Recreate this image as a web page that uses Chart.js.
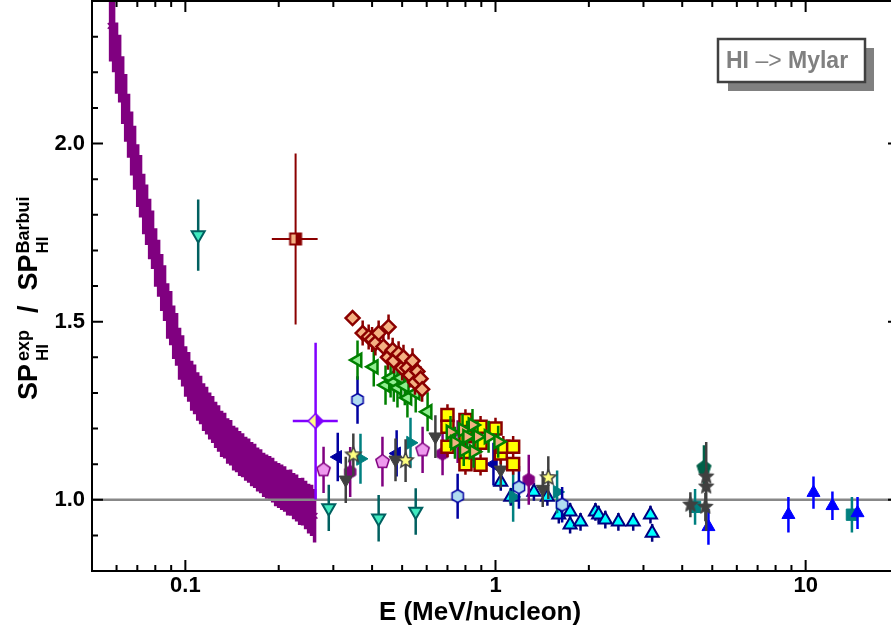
<!DOCTYPE html>
<html>
<head>
<meta charset="utf-8">
<title>HI in Mylar stopping power ratio</title>
<script src="https://cdn.jsdelivr.net/npm/chart.js@4.4.0/dist/chart.umd.min.js"></script>
<style>
  html, body { margin: 0; padding: 0; background: #fff; overflow: hidden; }
  #wrap { width: 900px; height: 637px; }
</style>
</head>
<body>
<div id="wrap"><canvas id="spChart" width="900" height="637"></canvas></div>
<script>
const FONT = "'Liberation Sans', Arial, Helvetica, sans-serif";

// ---- axis ticks ----
const xTickVals = [0.05, 0.06, 0.07, 0.08, 0.09, 0.1, 0.2, 0.3, 0.4, 0.5, 0.6, 0.7, 0.8, 0.9,
                   1, 2, 3, 4, 5, 6, 7, 8, 9, 10, 20];
const xMajor = [0.1, 1, 10];
const xTickLabels = { '0.1': '0.1', '1': '1', '10': '10' };
const yTickVals = [0.8, 0.9, 1.0, 1.1, 1.2, 1.3, 1.4, 1.5, 1.6, 1.7, 1.8, 1.9, 2.0, 2.1, 2.2, 2.3, 2.4];
const yMajor = [1.0, 1.5, 2.0];
const yTickLabels = { '1': '1.0', '1.5': '1.5', '2': '2.0' };

// ---- low energy run (dense band) ----
const bandE = [
  0.0574, 0.0587, 0.0600, 0.0614, 0.0628, 0.0642, 0.0656, 0.0671, 0.0686, 0.0702,
  0.0717, 0.0734, 0.0750, 0.0767, 0.0784, 0.0802, 0.0820, 0.0839, 0.0857, 0.0877,
  0.0897, 0.0917, 0.0937, 0.0958, 0.0980, 0.1002, 0.1025, 0.1048, 0.1071, 0.1096,
  0.1120, 0.1145, 0.1171, 0.1198, 0.1225, 0.1252, 0.1280, 0.1309, 0.1339, 0.1369,
  0.1400, 0.1431, 0.1463, 0.1496, 0.1530, 0.1565, 0.1600, 0.1636, 0.1673, 0.1710,
  0.1749, 0.1788, 0.1828, 0.1870, 0.1912, 0.1955, 0.1999, 0.2044, 0.2090, 0.2137,
  0.2185, 0.2234, 0.2284, 0.2336, 0.2388, 0.2442, 0.2497, 0.2553, 0.2610];
const bandSP = [
  2.33, 2.30, 2.24, 2.21, 2.15, 2.10, 2.05, 2.00, 1.96, 1.91,
  1.88, 1.83, 1.80, 1.76, 1.73, 1.68, 1.65, 1.61, 1.58, 1.53,
  1.51, 1.47, 1.45, 1.41, 1.39, 1.36, 1.345, 1.32, 1.31, 1.29,
  1.28, 1.26, 1.25, 1.235, 1.225, 1.21, 1.20, 1.185, 1.18, 1.165,
  1.16, 1.145, 1.14, 1.13, 1.125, 1.115, 1.11, 1.10, 1.095, 1.085,
  1.08, 1.07, 1.065, 1.06, 1.055, 1.045, 1.04, 1.035, 1.03, 1.02,
  1.02, 1.01, 1.005, 0.995, 0.995, 0.985, 0.975, 0.97, 0.955];
const bandErr = [
  0.10, 0.10, 0.10, 0.095, 0.095, 0.095, 0.09, 0.09, 0.09, 0.088,
  0.088, 0.085, 0.085, 0.085, 0.082, 0.082, 0.08, 0.08, 0.078, 0.078,
  0.076, 0.075, 0.074, 0.073, 0.072, 0.071, 0.07, 0.07, 0.07, 0.068,
  0.068, 0.067, 0.067, 0.066, 0.066, 0.065, 0.065, 0.065, 0.064, 0.064,
  0.064, 0.063, 0.063, 0.063, 0.062, 0.062, 0.062, 0.062, 0.062, 0.062,
  0.062, 0.062, 0.062, 0.063, 0.063, 0.063, 0.063, 0.064, 0.064, 0.064,
  0.065, 0.065, 0.066, 0.066, 0.067, 0.068, 0.07, 0.072, 0.075];

// ---- single points with x and y error bars ----
const halfSqE = [0.2267], halfSqSP = [1.732], halfSqErr = [0.24], halfSqLo = [0.19], halfSqHi = [0.267];
const halfDiaE = [0.263], halfDiaSP = [1.221], halfDiaErr = [0.22], halfDiaLo = [0.222], halfDiaHi = [0.31];

// ---- diamonds ----
const diaE = [0.346, 0.373, 0.390, 0.400, 0.410, 0.420, 0.435, 0.450, 0.452, 0.466, 0.470,
              0.487, 0.500, 0.505, 0.520, 0.530, 0.540, 0.550, 0.560, 0.573, 0.580];
const diaSP = [1.510, 1.468, 1.457, 1.45, 1.44, 1.468, 1.43, 1.40, 1.485, 1.42, 1.39,
               1.41, 1.37, 1.40, 1.37, 1.35, 1.39, 1.33, 1.36, 1.34, 1.31];
const diaErr = [0, 0.035, 0.035, 0.035, 0.035, 0.035, 0.035, 0.035, 0.035, 0.035, 0.035,
                0.035, 0.035, 0.035, 0.035, 0.035, 0.035, 0.035, 0.035, 0.035, 0.035];

// ---- green left triangles ----
const ltE = [0.359, 0.405, 0.442, 0.459, 0.470, 0.483, 0.494, 0.510, 0.520, 0.553, 0.604];
const ltSP = [1.392, 1.373, 1.322, 1.342, 1.33, 1.314, 1.342, 1.32, 1.286, 1.30, 1.247];

// ---- yellow squares ----
const sqE = [0.70, 0.70, 0.70, 0.80, 0.80, 0.80, 0.80, 0.895, 0.895, 0.895, 1.00, 1.04, 1.06, 1.14, 1.14];
const sqSP = [1.238, 1.205, 1.149, 1.224, 1.178, 1.13, 1.10, 1.205, 1.16, 1.098, 1.20, 1.13, 1.149, 1.149, 1.10];

// ---- salmon right triangles ----
const rtE = [0.716, 0.740, 0.783, 0.790, 0.810, 0.843, 0.850, 0.875, 0.950, 1.02];
const rtSP = [1.19, 1.16, 1.196, 1.14, 1.177, 1.21, 1.135, 1.177, 1.177, 1.163];

// ---- scattered sets around 1 ----
const lbHexE = [0.359, 0.755, 1.19, 1.64], lbHexSP = [1.28, 1.01, 1.035, 0.986], lbHexErr = [0.067, 0.063, 0.06, 0.05];
const navyE = [0.31, 0.48, 0.985], navySP = [1.12, 1.13, 1.10], navyErr = [0.068, 0.065, 0.06];
const grayDnE = [0.329, 0.476, 0.64, 1.04, 1.42], grayDnSP = [1.056, 1.112, 1.177, 1.084, 1.03], grayDnErr = [0.065, 0.06, 0.06, 0.05, 0.05];
const yStarE = [0.348, 0.513, 1.48], yStarSP = [1.126, 1.11, 1.062], yStarErr = [0.06, 0.06, 0.06];
const purpHexE = [0.34, 0.675, 1.28], purpHexSP = [1.078, 1.129, 1.056], purpHexErr = [0.07, 0.06, 0.07];
const pentE = [0.279, 0.432, 0.582, 0.755], pentSP = [1.084, 1.107, 1.14, 1.163], pentErr = [0.065, 0.07, 0.065, 0.06];
const tealRtE = [0.367, 0.532, 1.14, 1.58], tealRtSP = [1.115, 1.16, 1.008, 1.022], tealRtErr = [0.07, 0.07, 0.07, 0.06];
const aquaE = [0.110, 0.29, 0.42, 0.553], aquaSP = [1.743, 0.977, 0.948, 0.967], aquaErr = [0.10, 0.065, 0.065, 0.065];

// ---- higher energies ----
const cyanE = [1.04, 1.12, 1.33, 1.47, 1.60, 1.74, 1.74, 1.88, 2.10, 2.15, 2.26, 2.49, 2.78, 3.16, 3.20];
const cyanSP = [1.05, 1.008, 1.022, 1.008, 0.958, 0.966, 0.93, 0.938, 0.966, 0.958, 0.944, 0.938, 0.938, 0.958, 0.907];
const blueUpE = [4.86, 8.8, 10.6, 12.2, 14.7], blueUpSP = [0.924, 0.958, 1.02, 0.983, 0.963], blueUpErr = [0.05, 0.05, 0.045, 0.04, 0.045];
const gStarE = [4.25, 4.75, 4.78, 4.78], gStarSP = [0.986, 0.98, 1.037, 1.065], gStarErr = [0.035, 0.04, 0.125, 0.04];
const dgPentE = [4.7], dgPentSP = [1.09], dgPentErr = [0.063];
const tealSqE = [4.4, 14.1], tealSqSP = [0.98, 0.958], tealSqErr = [0.05, 0.05];

// ---- helpers ----
function pts(xs, ys, err, lo, hi) {
  return xs.map((v, i) => ({
    x: v, y: ys[i],
    e: Array.isArray(err) ? err[i] : (err || 0),
    xl: lo ? lo[i] : null, xh: hi ? hi[i] : null
  }));
}

function marker(draw, r, fill, stroke, lw) {
  const s = Math.ceil(2 * r + lw + 3);
  const c = document.createElement('canvas');
  c.width = c.height = s;
  const g = c.getContext('2d');
  g.translate(s / 2, s / 2);
  draw(g, r, fill, stroke, lw);
  return c;
}

function polygon(n, inner) {
  return (g, r, fill, stroke, lw) => {
    const k = inner ? 2 * n : n;
    g.beginPath();
    for (let i = 0; i < k; i++) {
      const rr = inner && i % 2 ? r * inner : r;
      const a = -Math.PI / 2 + i * 2 * Math.PI / k;
      g.lineTo(rr * Math.cos(a), rr * Math.sin(a));
    }
    g.closePath();
    g.fillStyle = fill;
    g.fill();
    if (lw) { g.lineWidth = lw; g.strokeStyle = stroke; g.stroke(); }
  };
}

// left half in fill colour, right half in stroke colour
function halfShape(diamond) {
  return (g, r, fill, stroke, lw) => {
    const p = new Path2D();
    if (diamond) { p.moveTo(0, -r); p.lineTo(r, 0); p.lineTo(0, r); p.lineTo(-r, 0); p.closePath(); }
    else p.rect(-r, -r, 2 * r, 2 * r);
    g.fillStyle = stroke;
    g.fill(p);
    g.save();
    g.beginPath(); g.rect(-r - 3, -r - 3, r + 3, 2 * r + 6); g.clip();
    g.fillStyle = fill;
    g.fill(p);
    g.restore();
    g.lineWidth = lw; g.strokeStyle = stroke; g.stroke(p);
  };
}

const imgPent = marker(polygon(5), 7, '#EE9AEE', '#800080', 1.5);
const imgLbHex = marker(polygon(6), 6.5, '#B0DCF0', '#0000A0', 1.5);
const imgPurpHex = marker(polygon(6), 6.5, '#800080', '#800080', 1);
const imgYStar = marker(polygon(5, 0.45), 8, '#FFFF80', '#404040', 1.5);
const imgGStar = marker(polygon(5, 0.45), 8, '#404040', '#404040', 1);
const imgDgPent = marker(polygon(5), 7.5, '#006048', '#006048', 1);
const imgHalfSq = marker(halfShape(false), 5.5, '#F4B183', '#8B0000', 2);
const imgHalfDia = marker(halfShape(true), 7.5, '#FFFF80', '#8000FF', 1.5);

function series(data, style) {
  return Object.assign({ data, showLine: false, pointHoverRadius: 0 }, style);
}

// first entry is drawn on top
const datasets = [
  series(pts(halfSqE, halfSqSP, halfSqErr, halfSqLo, halfSqHi),
    { pointStyle: imgHalfSq, errColor: '#8B0000', errWidth: 2 }),
  series(pts(halfDiaE, halfDiaSP, halfDiaErr, halfDiaLo, halfDiaHi),
    { pointStyle: imgHalfDia, errColor: '#8000FF', errWidth: 2.5 }),
  series(pts(rtE, rtSP, 0.045),
    { pointStyle: 'triangle', pointRotation: 90, pointRadius: 7.5, backgroundColor: '#F4B183',
      borderColor: '#008000', borderWidth: 2.5, errColor: '#008000', errWidth: 2.5 }),
  series(pts(sqE, sqSP, 0.03),
    { pointStyle: 'rect', pointRadius: 8.5, backgroundColor: '#FFFF00',
      borderColor: '#8B0000', borderWidth: 2.5, errColor: '#8B0000', errWidth: 2.5 }),
  series(pts(diaE, diaSP, diaErr),
    { pointStyle: 'rectRot', pointRadius: 7, backgroundColor: '#F4B183',
      borderColor: '#8B0000', borderWidth: 2.5, errColor: '#8B0000', errWidth: 2.5 }),
  series(pts(ltE, ltSP, 0.055),
    { pointStyle: 'triangle', pointRotation: 270, pointRadius: 7.5, backgroundColor: '#90EE90',
      borderColor: '#008000', borderWidth: 2.5, errColor: '#008000', errWidth: 2.5 }),
  series(pts(lbHexE, lbHexSP, lbHexErr),
    { pointStyle: imgLbHex, errColor: '#0000A0', errWidth: 2.5 }),
  series(pts(yStarE, yStarSP, yStarErr),
    { pointStyle: imgYStar, errColor: '#404040', errWidth: 2.5 }),
  series(pts(grayDnE, grayDnSP, grayDnErr),
    { pointStyle: 'triangle', pointRotation: 180, pointRadius: 7.5, backgroundColor: '#404040',
      borderColor: '#404040', borderWidth: 1, errColor: '#404040', errWidth: 2.5 }),
  series(pts(navyE, navySP, navyErr),
    { pointStyle: 'triangle', pointRotation: 270, pointRadius: 7.5, backgroundColor: '#0000A0',
      borderColor: '#0000A0', borderWidth: 1, errColor: '#0000A0', errWidth: 2.5 }),
  series(pts(purpHexE, purpHexSP, purpHexErr),
    { pointStyle: imgPurpHex, errColor: '#800080', errWidth: 2.5 }),
  series(pts(pentE, pentSP, pentErr),
    { pointStyle: imgPent, errColor: '#800080', errWidth: 2.5 }),
  series(pts(tealRtE, tealRtSP, tealRtErr),
    { pointStyle: 'triangle', pointRotation: 90, pointRadius: 7.5, backgroundColor: '#008080',
      borderColor: '#008080', borderWidth: 1, errColor: '#008080', errWidth: 2.5 }),
  series(pts(aquaE, aquaSP, aquaErr),
    { pointStyle: 'triangle', pointRotation: 180, pointRadius: 7.5, backgroundColor: '#40EAC0',
      borderColor: '#006060', borderWidth: 2, errColor: '#006060', errWidth: 2.5 }),
  series(pts(cyanE, cyanSP, 0.025),
    { pointStyle: 'triangle', pointRadius: 7.5, backgroundColor: '#00FFFF',
      borderColor: '#000080', borderWidth: 2, errColor: '#000080', errWidth: 2.5 }),
  series(pts(gStarE, gStarSP, gStarErr),
    { pointStyle: imgGStar, errColor: '#404040', errWidth: 2.5 }),
  series(pts(dgPentE, dgPentSP, dgPentErr),
    { pointStyle: imgDgPent, errColor: '#006048', errWidth: 2.5 }),
  series(pts(blueUpE, blueUpSP, blueUpErr),
    { pointStyle: 'triangle', pointRadius: 7.5, backgroundColor: '#0000FF',
      borderColor: '#0000FF', borderWidth: 1, errColor: '#0000FF', errWidth: 2.5 }),
  series(pts(tealSqE, tealSqSP, tealSqErr),
    { pointStyle: 'rect', pointRadius: 8, backgroundColor: '#008080',
      borderColor: '#008080', borderWidth: 1, errColor: '#008080', errWidth: 2.5 }),
  series(pts(bandE, bandSP, bandErr),
    { pointStyle: 'crossRot', pointRadius: 4, borderColor: '#800080', borderWidth: 1.5,
      errColor: '#800080', errWidth: 3.5, band: true })
];

// vertical / horizontal error bars, drawn under each set's markers
const errorBars = {
  id: 'errorBars',
  beforeDatasetDraw(chart, args) {
    const ds = chart.data.datasets[args.index];
    const { ctx, chartArea: a, scales: { x, y } } = chart;
    ctx.save();
    ctx.beginPath();
    ctx.rect(a.left, a.top, a.right - a.left, a.bottom - a.top);
    ctx.clip();
    ctx.strokeStyle = ds.errColor;
    ctx.lineWidth = ds.errWidth || 2;
    ctx.beginPath();
    ds.data.forEach(p => {
      const px = x.getPixelForValue(p.x);
      if (p.e) {
        ctx.moveTo(px, y.getPixelForValue(p.y - p.e));
        ctx.lineTo(px, y.getPixelForValue(p.y + p.e));
      }
      if (p.xl != null) {
        const py = y.getPixelForValue(p.y);
        ctx.moveTo(x.getPixelForValue(p.xl), py);
        ctx.lineTo(x.getPixelForValue(p.xh), py);
      }
    });
    ctx.stroke();
    ctx.restore();
  },
  afterDatasetDraw(chart, args) {
    // reference line at ratio = 1, over the band
    if (!chart.data.datasets[args.index].band) return;
    const { ctx, chartArea: a, scales: { y } } = chart;
    const py = y.getPixelForValue(1.0);
    ctx.save();
    ctx.strokeStyle = '#888';
    ctx.lineWidth = 2.5;
    ctx.beginPath();
    ctx.moveTo(a.left, py);
    ctx.lineTo(a.right, py);
    ctx.stroke();
    ctx.restore();
  }
};

// frame, inward ticks, axis titles and the tag box
const frame = {
  id: 'frame',
  afterDraw(chart) {
    const { ctx, chartArea: a, scales: { x, y } } = chart;
    ctx.save();
    ctx.strokeStyle = '#000';
    ctx.lineWidth = 2;
    ctx.strokeRect(a.left, a.top, a.right - a.left, a.bottom - a.top);
    ctx.beginPath();
    xTickVals.forEach(v => {
      const px = x.getPixelForValue(v);
      const len = xMajor.includes(v) ? 11 : 6;
      ctx.moveTo(px, a.bottom); ctx.lineTo(px, a.bottom - len);
      ctx.moveTo(px, a.top); ctx.lineTo(px, a.top + len);
    });
    yTickVals.forEach(v => {
      const py = y.getPixelForValue(v);
      const len = yMajor.includes(v) ? 11 : 6;
      ctx.moveTo(a.left, py); ctx.lineTo(a.left + len, py);
      ctx.moveTo(a.right, py); ctx.lineTo(a.right - len, py);
    });
    ctx.stroke();

    // x title
    ctx.fillStyle = '#000';
    ctx.font = 'bold 26px ' + FONT;
    ctx.textAlign = 'center';
    ctx.textBaseline = 'alphabetic';
    ctx.fillText('E (MeV/nucleon)', 480, 620);

    // y title, rotated, with super/subscripts
    ctx.save();
    ctx.translate(37, 400);
    ctx.rotate(-Math.PI / 2);
    ctx.textAlign = 'left';
    const big = 'bold 27px ' + FONT;
    const sup = 'bold 18px ' + FONT, sub = 'bold 17px ' + FONT;
    let cx = 0;
    const word = (t) => { ctx.font = big; ctx.fillText(t, cx, 0); cx += ctx.measureText(t).width; };
    const scripts = (hi, lo, gap) => {
      cx += gap;
      ctx.font = sup; ctx.fillText(hi, cx, -8); const wh = ctx.measureText(hi).width;
      ctx.font = sub; ctx.fillText(lo, cx, 11); const wl = ctx.measureText(lo).width;
      cx += Math.max(wh, wl) + 2;
    };
    word('SP'); scripts('exp', 'HI', 3);
    word('  /  ');
    word('SP'); scripts('Barbui', 'HI', 1);
    ctx.restore();

    // tag box
    ctx.fillStyle = '#808080';
    ctx.fillRect(728, 48, 146, 43);
    ctx.fillStyle = '#fff';
    ctx.fillRect(718, 39, 147, 43);
    ctx.strokeStyle = '#404040';
    ctx.lineWidth = 2.5;
    ctx.strokeRect(718, 39, 147, 43);
    ctx.fillStyle = '#808080';
    ctx.textAlign = 'left';
    let tx = 726;
    ctx.font = 'bold 23px ' + FONT;
    ctx.fillText('HI ', tx, 68); tx += ctx.measureText('HI ').width;
    ctx.font = '23px ' + FONT;
    ctx.fillText('\u2013>', tx, 68); tx += ctx.measureText('\u2013>').width;
    ctx.font = 'bold 23px ' + FONT;
    ctx.fillText(' Mylar', tx, 68);
    ctx.restore();
  }
};

new Chart(document.getElementById('spChart'), {
  type: 'scatter',
  data: { datasets },
  options: {
    responsive: false,
    animation: false,
    events: [],
    layout: { autoPadding: false, padding: { top: 1, right: 1, left: 0, bottom: 0 } },
    plugins: { legend: { display: false }, tooltip: { enabled: false } },
    scales: {
      x: {
        type: 'logarithmic',
        min: 0.05,
        max: 20,
        grid: { display: false, drawTicks: false },
        border: { display: false },
        afterBuildTicks: s => { s.ticks = xTickVals.map(v => ({ value: v })); },
        afterFit: s => { s.height = 66; s.paddingLeft = 0; s.paddingRight = 0; },
        ticks: {
          autoSkip: false, maxRotation: 0, minRotation: 0, padding: 2,
          color: '#000', font: { family: FONT, size: 22, weight: 'bold' },
          callback: v => xTickLabels[String(v)] || ''
        }
      },
      y: {
        type: 'linear',
        min: 0.8,
        max: 2.4,
        grid: { display: false, drawTicks: false },
        border: { display: false },
        afterBuildTicks: s => { s.ticks = yTickVals.map(v => ({ value: v })); },
        afterFit: s => { s.width = 92; s.paddingTop = 0; s.paddingBottom = 0; },
        ticks: {
          autoSkip: false, padding: 7,
          color: '#000', font: { family: FONT, size: 22, weight: 'bold' },
          callback: v => yTickLabels[String(v)] || ''
        }
      }
    }
  },
  plugins: [errorBars, frame]
});
</script>
</body>
</html>
